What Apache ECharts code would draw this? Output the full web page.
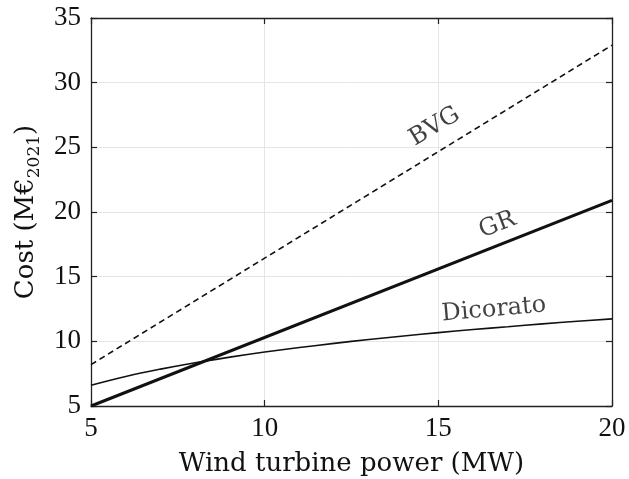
<!DOCTYPE html>
<html>
<head>
<meta charset="utf-8">
<script src="https://cdn.jsdelivr.net/npm/echarts@6/dist/echarts.min.js"></script>
<style>
  html, body { margin: 0; padding: 0; background: #ffffff; }
  #chart { width: 629px; height: 479px; }
</style>
</head>
<body>
<div id="chart"></div>
<script>
// Turbine rating (MW) and installed cost (M€ 2021) for three cost models
const powerMW = [5, 6, 7, 8, 9, 10, 11, 12, 13, 14, 15, 16, 17, 18, 19, 20];
const dicoratoCost = [6.6, 7.28, 7.85, 8.35, 8.78, 9.17, 9.52, 9.84, 10.14, 10.41, 10.67, 10.91, 11.13, 11.35, 11.55, 11.74];

const bvgPower = [5, 20];
const bvgCost = [8.2, 32.9];

const grPower = [5, 20];
const grCost = [5.0, 20.9];

// Curve names written next to each line: position in data units and rotation
const curveLabels = ['BVG', 'GR', 'Dicorato'];
const curveLabelPower = [14.9, 16.7, 16.6];
const curveLabelCost = [26.6, 19.0, 12.45];
const curveLabelAngle = [31, 21, 5];

const xTicks = [5, 10, 15, 20];
const yTicks = [5, 10, 15, 20, 25, 30, 35];

const FONT = 'Liberation Serif';
const WIDE_FONT = 'DejaVu Serif';
const INK = '#111111';

function pairs(xs, ys) {
  return xs.map((x, i) => [x, ys[i]]);
}

const chart = echarts.init(document.getElementById('chart'), null, { renderer: 'canvas' });

const frameLine = { show: true, lineStyle: { color: '#222222', width: 1.3 } };
const innerTick = { show: true, inside: true, length: 6, lineStyle: { color: '#222222', width: 1.2 } };

chart.setOption({
  backgroundColor: '#ffffff',
  animation: false,
  grid: { left: 91, right: 17, top: 18, bottom: 73, containLabel: false, outerBoundsMode: 'none' },
  xAxis: [
    {
      type: 'value',
      min: xTicks[0], max: xTicks[xTicks.length - 1], interval: 5,
      name: 'Wind turbine power (MW)',
      nameLocation: 'middle',
      nameGap: 45,
      nameTextStyle: { fontFamily: WIDE_FONT, fontSize: 26, color: INK },
      axisLine: frameLine,
      axisTick: innerTick,
      axisLabel: { fontFamily: FONT, fontSize: 27, color: INK, margin: 9 },
      splitLine: { show: true, lineStyle: { color: '#e5e5e5', width: 1 } }
    },
    {
      type: 'value', position: 'top',
      min: xTicks[0], max: xTicks[xTicks.length - 1], interval: 5,
      axisLine: frameLine, axisTick: innerTick,
      axisLabel: { show: false }, splitLine: { show: false }
    }
  ],
  yAxis: [
    {
      type: 'value',
      min: yTicks[0], max: yTicks[yTicks.length - 1], interval: 5,
      name: '{a|Cost (M€}{s|2021}{a|)}',
      nameLocation: 'middle',
      nameRotate: 90,
      nameGap: 47,
      nameTextStyle: {
        color: INK,
        rich: {
          a: { fontFamily: WIDE_FONT, fontSize: 26, color: INK, lineHeight: 34 },
          s: { fontFamily: WIDE_FONT, fontSize: 17, color: INK, lineHeight: 17, verticalAlign: 'bottom' }
        }
      },
      axisLine: frameLine,
      axisTick: innerTick,
      axisLabel: { fontFamily: FONT, fontSize: 27, color: INK, margin: 10 },
      splitLine: { show: true, lineStyle: { color: '#e5e5e5', width: 1 } }
    },
    {
      type: 'value', position: 'right',
      min: yTicks[0], max: yTicks[yTicks.length - 1], interval: 5,
      axisLine: frameLine, axisTick: innerTick,
      axisLabel: { show: false }, splitLine: { show: false }
    }
  ],
  series: [
    {
      name: 'BVG', type: 'line', data: pairs(bvgPower, bvgCost),
      showSymbol: false, symbol: 'none',
      lineStyle: { color: INK, width: 1.6, type: [6, 4] }
    },
    {
      name: 'Dicorato', type: 'line', data: pairs(powerMW, dicoratoCost),
      showSymbol: false, symbol: 'none', smooth: 0.4,
      lineStyle: { color: INK, width: 1.6 }
    },
    {
      name: 'GR', type: 'line', data: pairs(grPower, grCost),
      showSymbol: false, symbol: 'none',
      lineStyle: { color: INK, width: 3 }
    },
    {
      name: 'curve names', type: 'scatter', symbolSize: 0, silent: true,
      data: curveLabels.map((txt, i) => ({
        value: [curveLabelPower[i], curveLabelCost[i]],
        label: {
          show: true, position: 'inside', formatter: txt,
          rotate: curveLabelAngle[i],
          fontFamily: WIDE_FONT, fontSize: 24, color: INK
        }
      }))
    }
  ]
});
</script>
</body>
</html>
